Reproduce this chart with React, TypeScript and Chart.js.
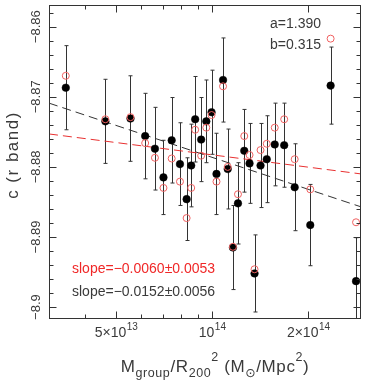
import React, { useEffect, useRef } from 'react';
import { Chart, registerables } from 'chart.js';

Chart.register(...registerables);

// ---- data ----
const massDensity = [3.48e13, 4.63e13, 5.55e13, 6.17e13, 6.62e13, 7.04e13, 7.47e13, 7.93e13, 8.32e13, 8.60e13, 8.85e13, 9.24e13, 9.59e13, 9.96e13, 1.032e14, 1.082e14, 1.119e14, 1.162e14, 1.205e14, 1.261e14, 1.310e14, 1.358e14, 1.418e14, 1.483e14, 1.571e14, 1.682e14, 1.814e14, 2.030e14, 2.351e14, 2.824e14];
const cBlack = [-8.8687, -8.8735, -8.8731, -8.8756, -8.8774, -8.8815, -8.8762, -8.8796, -8.8846, -8.8798, -8.8732, -8.8761, -8.8735, -8.8722, -8.8810, -8.8676, -8.8803, -8.8915, -8.8852, -8.8777, -8.8795, -8.8952, -8.8798, -8.8789, -8.8768, -8.8769, -8.8829, -8.8883, -8.8684, -8.8963];
const cErr = [0.0060, 0.0060, 0.0061, 0.0061, 0.0059, 0.0053, 0.0061, 0.0059, 0.0059, 0.0059, 0.0061, 0.0060, 0.0059, 0.0060, 0.0058, 0.0060, 0.0057, 0.0060, 0.0058, 0.0059, 0.0057, 0.0055, 0.0060, 0.0062, 0.0059, 0.0060, 0.0062, 0.0058, 0.0055, 0.0062];
const cRed = [-8.8670, -8.8732, -8.8729, -8.8766, -8.8787, -8.8830, -8.8788, -8.8821, -8.8873, -8.8830, -8.8747, -8.8784, -8.8744, -8.8726, -8.8821, -8.8685, -8.8800, -8.8914, -8.8839, -8.8756, -8.8783, -8.8946, -8.8776, -8.8767, -8.8744, -8.8732, -8.8789, -8.8832, -8.8617, -8.8879];

const fitX = [3.083e13, 2.927e14];
const fitBlack = [-8.8709, -8.8857];
const fitRed = [-8.8753, -8.8810];

const xMin = 3.083e13;
const xMax = 2.927e14;
const yMin = -8.9017;
const yMax = -8.8569;

const xMajorTicks = [5e13, 1e14, 2e14];
const xTickBase = ['5×10', '10', '2×10'];
const xTickExp = ['13', '14', '14'];
const xMinorTicks = [4e13, 6e13, 7e13, 8e13, 9e13];
const yMajorTicks = [-8.86, -8.87, -8.88, -8.89, -8.9];
const yTickLabels = ['−8.86', '−8.87', '−8.88', '−8.89', '−8.9'];
const yMinorStep = 0.002;

const paramA = 'a=1.390';
const paramB = 'b=0.315';
const slopeRed = 'slope=−0.0060±0.0053';
const slopeBlack = 'slope=−0.0152±0.0056';

const FONT = '"Liberation Sans", "DejaVu Sans", sans-serif';
const TXT = '#3a3a3a';
const RED_PT = '#f06060';
const RED_LINE = '#e83030';
const RED_TXT = '#f02828';

const decorPlugin = {
  id: 'decor',
  beforeDatasetsDraw(chart: any) {
    const { ctx, chartArea: a } = chart;
    const xs = chart.scales.x;
    const ys = chart.scales.y;
    ctx.save();
    ctx.beginPath();
    ctx.rect(a.left, a.top, a.right - a.left, a.bottom - a.top);
    ctx.clip();
    ctx.strokeStyle = '#333';
    ctx.lineWidth = 1;
    for (let i = 0; i < massDensity.length; i++) {
      const x = Math.round(xs.getPixelForValue(massDensity[i])) + 0.5;
      const yt = ys.getPixelForValue(cBlack[i] + cErr[i]);
      const yb = ys.getPixelForValue(cBlack[i] - cErr[i]);
      ctx.beginPath();
      ctx.moveTo(x, yt);
      ctx.lineTo(x, yb);
      ctx.moveTo(x - 2, yt);
      ctx.lineTo(x + 2, yt);
      ctx.moveTo(x - 2, yb);
      ctx.lineTo(x + 2, yb);
      ctx.stroke();
    }
    ctx.restore();
  },
  afterDraw(chart: any) {
    const { ctx, chartArea: a } = chart;
    const xs = chart.scales.x;
    const ys = chart.scales.y;
    const L = a.left + 0.5, R = a.right - 0.5, T = a.top + 0.5, B = a.bottom - 0.5;
    ctx.save();
    ctx.strokeStyle = '#333';
    ctx.lineWidth = 1;
    ctx.strokeRect(L, T, R - L, B - T);
    // x ticks (inward, bottom and top)
    const xt = (v: number, len: number) => {
      const p = Math.round(xs.getPixelForValue(v)) + 0.5;
      ctx.beginPath();
      ctx.moveTo(p, B); ctx.lineTo(p, B - len);
      ctx.moveTo(p, T); ctx.lineTo(p, T + len);
      ctx.stroke();
    };
    xMajorTicks.forEach((v) => xt(v, 7));
    xMinorTicks.forEach((v) => xt(v, 4));
    // y ticks (inward, left and right)
    const yt = (v: number, len: number) => {
      const p = Math.round(ys.getPixelForValue(v)) + 0.5;
      ctx.beginPath();
      ctx.moveTo(L, p); ctx.lineTo(L + len, p);
      ctx.moveTo(R, p); ctx.lineTo(R - len, p);
      ctx.stroke();
    };
    const start = Math.ceil(yMin / yMinorStep - 1e-6);
    const end = Math.floor(yMax / yMinorStep + 1e-6);
    for (let k = start; k <= end; k++) {
      const v = k * yMinorStep;
      const isMajor = yMajorTicks.some((m) => Math.abs(m - v) < 1e-6);
      yt(v, isMajor ? 7 : 4);
    }
    // x tick labels
    ctx.fillStyle = TXT;
    ctx.textBaseline = 'alphabetic';
    ctx.textAlign = 'left';
    xMajorTicks.forEach((v, i) => {
      const p = xs.getPixelForValue(v);
      ctx.font = `14px ${FONT}`;
      const w1 = ctx.measureText(xTickBase[i]).width;
      ctx.font = `10px ${FONT}`;
      const w2 = ctx.measureText(xTickExp[i]).width;
      const x0 = p - (w1 + w2) / 2;
      ctx.font = `14px ${FONT}`;
      ctx.fillText(xTickBase[i], x0, 337);
      ctx.font = `10px ${FONT}`;
      ctx.fillText(xTickExp[i], x0 + w1 + 0.5, 330);
    });
    // y tick labels (rotated)
    ctx.font = `13px ${FONT}`;
    yMajorTicks.forEach((v, i) => {
      const p = ys.getPixelForValue(v);
      ctx.save();
      ctx.translate(36, p);
      ctx.rotate(-Math.PI / 2);
      ctx.textAlign = 'center';
      ctx.textBaseline = 'middle';
      ctx.fillText(yTickLabels[i], 0, 0);
      ctx.restore();
    });
    // y title
    ctx.save();
    ctx.translate(13, 155);
    ctx.rotate(-Math.PI / 2);
    ctx.font = `17px ${FONT}`;
    (ctx as any).letterSpacing = '1.5px';
    ctx.textAlign = 'center';
    ctx.textBaseline = 'middle';
    ctx.fillText('c (r band)', 0, 0);
    ctx.restore();
    // x title with sub/superscripts
    const runs: [string, number, number][] = [
      ['M', 17, 0], ['group', 12.5, 5], ['/R', 17, 0], ['200', 12.5, 5], ['2', 12.5, -11],
      [' (M', 17, 0], ['⊙', 12.5, 5], ['/Mpc', 17, 0], ['2', 12.5, -11], [')', 17, 0],
    ];
    ctx.save();
    (ctx as any).letterSpacing = '0.6px';
    let total = 0;
    const widths = runs.map(([t, s]) => {
      ctx.font = `${s}px ${FONT}`;
      const w = ctx.measureText(t).width;
      total += w;
      return w;
    });
    let cx = 215 - total / 2;
    ctx.textAlign = 'left';
    runs.forEach(([t, s, dy], i) => {
      ctx.font = `${s}px ${FONT}`;
      ctx.fillText(t, cx, 372 + dy);
      cx += widths[i];
    });
    ctx.restore();
    // annotations
    ctx.font = `14px ${FONT}`;
    ctx.textAlign = 'left';
    ctx.fillStyle = TXT;
    ctx.fillText(paramA, 270, 28);
    ctx.fillText(paramB, 270, 49);
    ctx.fillStyle = RED_TXT;
    ctx.fillText(slopeRed, 72, 273);
    ctx.fillStyle = TXT;
    ctx.fillText(slopeBlack, 72, 296);
    ctx.restore();
  },
};

export default function App() {
  const ref = useRef<HTMLCanvasElement | null>(null);
  useEffect(() => {
    document.body.style.margin = '0';
    const canvas = ref.current;
    if (!canvas) return;
    const chart = new Chart(canvas, {
      type: 'scatter',
      data: {
        datasets: [
          {
            label: 'red',
            data: massDensity.map((x, i) => ({ x, y: cRed[i] })),
            pointRadius: 3.5,
            pointBorderWidth: 1,
            pointBorderColor: RED_PT,
            pointBackgroundColor: 'rgba(0,0,0,0)',
            showLine: false,
          },
          {
            label: 'black',
            data: massDensity.map((x, i) => ({ x, y: cBlack[i] })),
            pointRadius: 3.8,
            pointBorderWidth: 0.5,
            pointBorderColor: '#000',
            pointBackgroundColor: '#000',
            showLine: false,
          },
          {
            label: 'fitRed',
            data: fitX.map((x, i) => ({ x, y: fitRed[i] })),
            showLine: true,
            borderColor: RED_LINE,
            borderWidth: 1,
            borderDash: [9, 5],
            pointRadius: 0,
          },
          {
            label: 'fitBlack',
            data: fitX.map((x, i) => ({ x, y: fitBlack[i] })),
            showLine: true,
            borderColor: '#333',
            borderWidth: 1,
            borderDash: [9, 5],
            pointRadius: 0,
          },
        ],
      },
      options: {
        responsive: false,
        animation: false,
        devicePixelRatio: 1,
        layout: { padding: { top: 0, right: 3, left: 0, bottom: 0 } },
        plugins: { legend: { display: false }, tooltip: { enabled: false } },
        scales: {
          x: {
            type: 'logarithmic',
            min: xMin,
            max: xMax,
            grid: { display: false },
            border: { display: false },
            ticks: { display: false },
            afterFit: (s: any) => { s.height = 63; },
          },
          y: {
            type: 'linear',
            min: yMin,
            max: yMax,
            grid: { display: false },
            border: { display: false },
            ticks: { display: false },
            afterFit: (s: any) => { s.width = 49; },
          },
        },
      },
      plugins: [decorPlugin],
    } as any);
    return () => chart.destroy();
  }, []);
  return (
    <div style={{ width: 366, height: 382, background: '#fff' }}>
      <canvas ref={ref} width={366} height={382} style={{ display: 'block' }} />
    </div>
  );
}
